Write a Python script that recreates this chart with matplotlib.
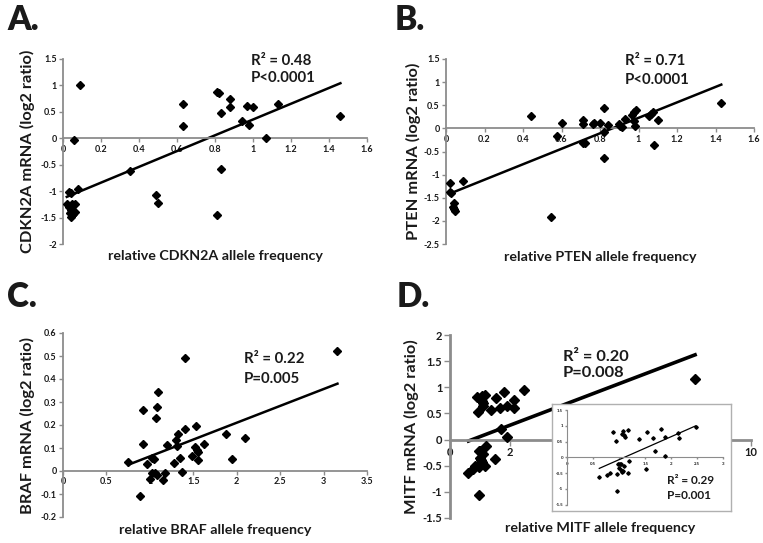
import numpy as np
from matplotlib import pyplot as plt

plt.rcParams['font.family'] = ['Lato', 'DejaVu Sans']

# panel A: CDKN2A
cdkn2a_x = [0.09, 0.06, 0.08, 0.03, 0.04, 0.02, 0.045, 0.065, 0.03, 0.04, 0.055, 0.065,
            0.035, 0.045, 0.04, 0.05, 0.35, 0.49, 0.50, 0.63, 0.63, 0.81, 0.82, 0.81,
            0.83, 0.83, 0.88, 0.88, 0.94, 0.97, 0.98, 1.00, 1.07, 1.13, 1.46]
cdkn2a_y = [1.0, -0.03, -0.96, -1.02, -1.04, -1.24, -1.25, -1.25, -1.30, -1.35, -1.38, -1.40,
            -1.42, -1.45, -1.48, -1.43, -0.62, -1.07, -1.23, 0.64, 0.23, 0.87, 0.85, -1.46,
            0.47, -0.59, 0.74, 0.59, 0.32, 0.61, 0.25, 0.59, 0.0, 0.64, 0.43]

# panel B: PTEN
pten_x = [0.02, 0.02, 0.025, 0.04, 0.035, 0.04, 0.045, 0.09, 0.44, 0.545, 0.575, 0.605,
          0.71, 0.71, 0.71, 0.72, 0.765, 0.77, 0.80, 0.82, 0.82, 0.82, 0.84, 0.90, 0.905,
          0.915, 0.93, 0.965, 0.975, 0.985, 0.98, 0.975, 1.055, 1.065, 1.075, 1.08, 1.10, 1.43]
pten_y = [-1.19, -1.37, -1.40, -1.61, -1.71, -1.75, -1.79, -1.14, 0.26, -1.92, -0.17, 0.11,
          0.18, 0.10, -0.31, -0.32, 0.09, 0.11, 0.12, 0.45, -0.08, -0.63, 0.07, 0.10, 0.06,
          0.04, 0.20, 0.30, 0.35, 0.40, 0.05, 0.17, 0.27, 0.31, 0.35, -0.36, 0.19, 0.55]

# panel C: BRAF
braf_x = [0.75, 0.89, 0.92, 0.92, 0.97, 1.0, 1.02, 1.05, 1.03, 1.06, 1.08, 1.07, 1.08, 1.09,
          1.15, 1.17, 1.2, 1.28, 1.30, 1.31, 1.32, 1.35, 1.37, 1.41, 1.41, 1.48, 1.53, 1.52,
          1.54, 1.56, 1.55, 1.62, 1.88, 1.95, 2.09, 3.16]
braf_y = [0.04, -0.107, 0.267, 0.116, 0.032, -0.033, 0.057, 0.054, -0.01, -0.01, -0.016, 0.23,
          0.28, 0.342, -0.038, -0.009, 0.113, 0.035, 0.133, 0.11, 0.161, 0.057, -0.003, 0.49,
          0.183, 0.064, 0.197, 0.103, 0.093, 0.081, 0.049, 0.116, 0.161, 0.052, 0.142, 0.523]

# panel D: MITF (inset shows these without the outlier)
mitf_x = [0.615, 0.77, 0.83, 0.885, 0.94, 0.95, 0.95, 0.98, 1.0, 1.01, 1.03, 1.04, 1.06, 1.07,
          1.08, 1.09, 1.11, 1.06, 1.09, 1.17, 1.17, 1.19, 1.38, 1.51, 1.54, 1.65, 1.69, 1.81,
          1.88, 1.88, 2.12, 2.14, 2.47]
mitf_y = [-0.63, -0.57, -0.51, 0.81, 0.53, -0.53, -1.06, -0.21, -0.35, -0.21, -0.40, -0.21,
          0.73, 0.84, -0.42, 0.70, 0.65, -0.45, -0.27, 0.86, -0.51, -0.13, 0.57, -0.38, 0.79,
          0.60, 0.21, 0.91, 0.64, 0.04, 0.76, 0.60, 0.95]
mitf_out_x = [8.15]
mitf_out_y = [1.15]

GRAY = '#8c8c8c'
TXT = '#1a1a1a'


def fmt(v):
    return '%g' % v


def style(ax, xlim, ylim, xticks, yticks, fs, lw=1.3, tlen=3):
    ax.set_xlim(xlim)
    ax.set_ylim(ylim)
    ax.set_facecolor('none')
    ax.spines['top'].set_visible(False)
    ax.spines['right'].set_visible(False)
    ax.spines['bottom'].set_position(('data', 0))
    for s in ['left', 'bottom']:
        ax.spines[s].set_color(GRAY)
        ax.spines[s].set_linewidth(lw)
    ax.set_xticks(xticks)
    ax.set_yticks(yticks)
    ax.set_xticklabels([fmt(v) for v in xticks], fontweight='bold', color=TXT)
    ax.set_yticklabels([fmt(v) for v in yticks], fontweight='bold', color=TXT)
    ax.tick_params(direction='out', length=tlen, width=1, color=GRAY, labelsize=fs, pad=1.5)


def scatter_fit(ax, x, y, ms=4.3, lw=1.8):
    x = np.array(x)
    y = np.array(y)
    ax.plot(x, y, 'D', color='black', ms=ms, mec='black', zorder=3, clip_on=False)
    k, b = np.polyfit(x, y, 1)
    xs = np.array([x.min(), x.max()])
    ax.plot(xs, k * xs + b, color='black', lw=lw, zorder=2)


def labels(ax, xl, yl, xly, ylx, yly):
    ax.xaxis.set_label_coords(0.5, xly)
    ax.set_xlabel(xl, fontsize=10.3, fontweight='bold', color=TXT, va='center')
    ax.yaxis.set_label_coords(ylx, yly)
    ax.set_ylabel(yl, fontsize=11.8, fontweight='bold', color=TXT, va='center')


def stats(ax, x, y1, y2, r2, p, fs=10.8):
    ax.text(x, y1, r2, transform=ax.transAxes, fontsize=fs, fontweight='bold', color=TXT, va='center')
    ax.text(x, y2, p, transform=ax.transAxes, fontsize=fs, fontweight='bold', color=TXT, va='center')


W, H = 763, 543
fig = plt.figure(figsize=(W / 100, H / 100), dpi=100)


def box(l, t, r, b):
    return [l / W, 1 - b / H, (r - l) / W, (b - t) / H]


# A
axA = fig.add_axes(box(63, 59, 367, 244))
scatter_fit(axA, cdkn2a_x, cdkn2a_y)
style(axA, (0, 1.6), (-2, 1.5), np.arange(0, 1.61, 0.2), np.arange(-2, 1.51, 0.5), 6.5)
labels(axA, 'relative CDKN2A allele frequency', 'CDKN2A mRNA (log2 ratio)', -0.065, -0.118, 0.49)
stats(axA, 0.618, 0.99, 0.895, 'R² = 0.48', 'P<0.0001')

# B
axB = fig.add_axes(box(446, 59, 754, 244))
scatter_fit(axB, pten_x, pten_y)
style(axB, (0, 1.6), (-2.5, 1.5), np.arange(0, 1.61, 0.2), np.arange(-2.5, 1.51, 0.5), 6.5)
labels(axB, 'relative PTEN allele frequency', 'PTEN mRNA (log2 ratio)', -0.07, -0.106, 0.56)
stats(axB, 0.581, 0.99, 0.886, 'R² = 0.71', 'P<0.0001')

# C
axC = fig.add_axes(box(63, 333, 367, 517))
scatter_fit(axC, braf_x, braf_y)
style(axC, (0, 3.5), (-0.2, 0.6), np.arange(0, 3.51, 0.5), np.round(np.arange(-0.2, 0.61, 0.1), 1), 6.5)
labels(axC, 'relative BRAF allele frequency', 'BRAF mRNA (log2 ratio)', -0.071, -0.118, 0.49)
stats(axC, 0.595, 0.857, 0.75, 'R² = 0.22', 'P=0.005')

# D
axD = fig.add_axes(box(450, 335, 750.7, 518))
scatter_fit(axD, mitf_x + mitf_out_x, mitf_y + mitf_out_y, ms=4.6, lw=2.6)
style(axD, (0, 10), (-1.5, 2), np.arange(0, 10.1, 2), np.arange(-1.5, 2.01, 0.5), 8, lw=2, tlen=4)
labels(axD, 'relative MITF allele frequency', 'MITF mRNA (log2 ratio)', -0.055, -0.127, 0.535)
stats(axD, 0.376, 0.881, 0.79, 'R² = 0.20', 'P=0.008', fs=11.8)

# inset frame and inset plot
frame = fig.add_axes(box(552, 404, 731, 511))
frame.set_facecolor('white')
frame.set_xticks([])
frame.set_yticks([])
for s in frame.spines.values():
    s.set_color('#b0b0b0')
    s.set_linewidth(1)
frame.set_zorder(5)

axI = fig.add_axes(box(567.3, 410, 723.3, 504.7))
axI.set_zorder(6)
scatter_fit(axI, mitf_x, mitf_y, ms=1.8, lw=0.9)
style(axI, (0, 3), (-1.5, 1.5), np.arange(0, 3.01, 0.5), np.arange(-1.5, 1.51, 0.5), 3.2, lw=0.8, tlen=1.5)
stats(axI, 0.637, 0.253, 0.095, 'R² = 0.29', 'P=0.001', fs=8.5)

# panel letters
for lx, ly, letter in [(7, 30, 'A.'), (395, 30, 'B.'), (7, 307, 'C.'), (397, 307, 'D.')]:
    fig.text(lx / W, 1 - ly / H, letter, fontsize=24, fontweight='heavy', color=TXT, va='baseline')

fig.savefig('out.png', dpi=100)
